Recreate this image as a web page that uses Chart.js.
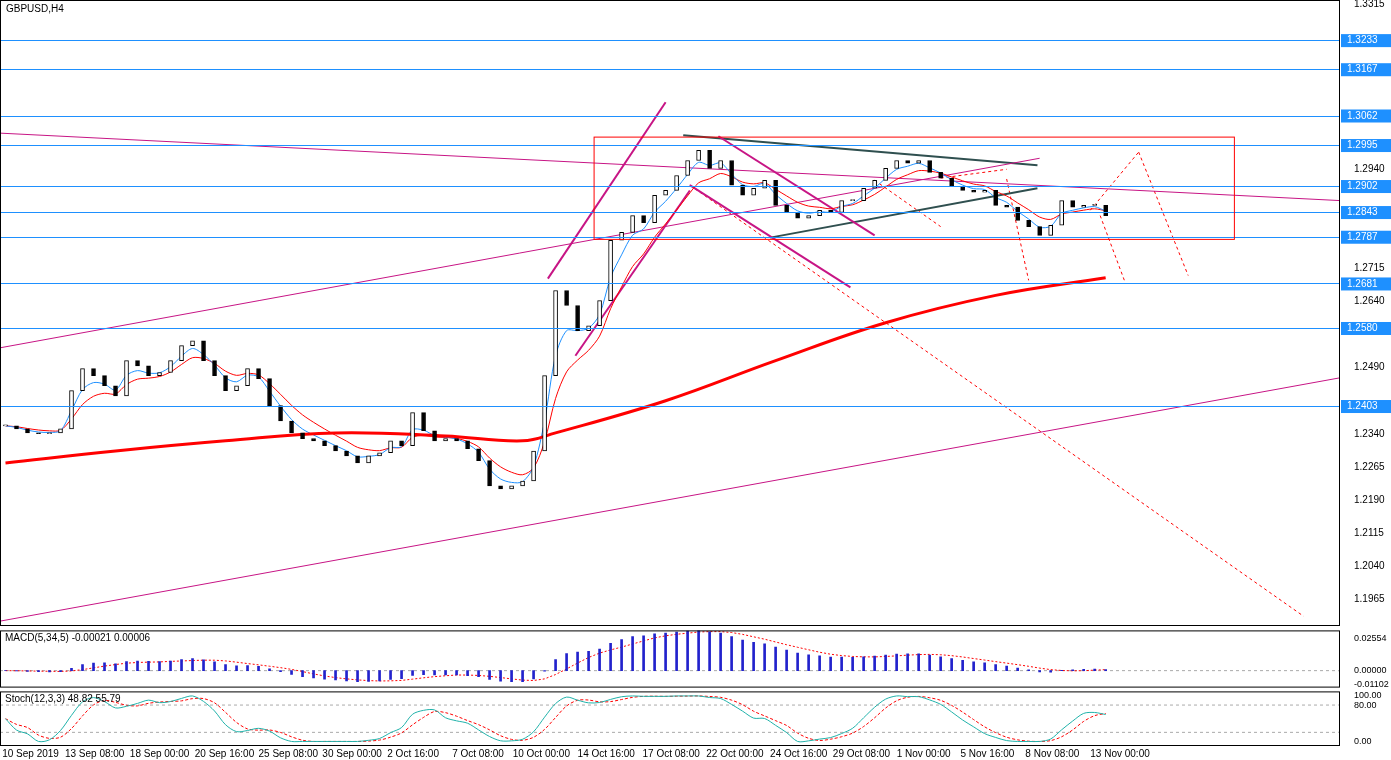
<!DOCTYPE html>
<html><head><meta charset="utf-8">
<script src="https://cdn.jsdelivr.net/npm/chart.js@4.4.1/dist/chart.umd.min.js"></script>
<style>
html,body{margin:0;background:#fff;font-family:"Liberation Sans",sans-serif;overflow:hidden;height:760px;}
.p{position:absolute;left:0;width:1391px;}
</style></head><body>
<div class="p" style="top:-12px;height:650px"><canvas id="main"></canvas></div>
<div class="p" style="top:619px;height:80px"><canvas id="macd"></canvas></div>
<div class="p" style="top:680px;height:80px"><canvas id="stoch"></canvas></div>
<script>
const closes=[1.2358,1.2351,1.2342,1.2340,1.2342,1.2351,1.2438,1.2488,1.2472,1.2449,1.2426,1.2506,1.2494,1.2472,1.2479,1.2506,1.2540,1.2551,1.2506,1.2472,1.2438,1.2449,1.2488,1.2465,1.2404,1.2369,1.2342,1.2329,1.2324,1.2313,1.2301,1.2290,1.2274,1.2290,1.2297,1.2324,1.2313,1.2388,1.2347,1.2324,1.2329,1.2324,1.2306,1.2279,1.2222,1.2215,1.2222,1.2233,1.2301,1.2472,1.2665,1.2631,1.2574,1.2585,1.2642,1.2779,1.2797,1.2835,1.2819,1.2881,1.2892,1.2926,1.2960,1.2983,1.2942,1.2960,1.2904,1.2881,1.2897,1.2915,1.2858,1.2842,1.2829,1.2835,1.2847,1.2842,1.2869,1.2869,1.2897,1.2915,1.2942,1.2960,1.2954,1.2960,1.2933,1.2920,1.2901,1.2892,1.2888,1.2892,1.2858,1.2854,1.2824,1.2810,1.2790,1.2813,1.2869,1.2854,1.2858,1.2858,1.2835];
const ma200Idx=[0,10,20,30,40,47,50,60,70,80,90,100];
const ma200Val=[1.2274,1.2301,1.2324,1.2342,1.2335,1.2324,1.2342,1.2415,1.2506,1.2592,1.2654,1.2694];
const levels=[1.3233,1.3167,1.3062,1.2995,1.2902,1.2843,1.2787,1.2681,1.2580,1.2403];
const tickLabels=["10 Sep 2019","13 Sep 08:00","18 Sep 00:00","20 Sep 16:00","25 Sep 08:00","30 Sep 00:00","2 Oct 16:00","7 Oct 08:00","10 Oct 00:00","14 Oct 16:00","17 Oct 08:00","22 Oct 00:00","24 Oct 16:00","29 Oct 08:00","1 Nov 00:00","5 Nov 16:00","8 Nov 08:00","13 Nov 00:00"];
const tickIdx=[-0.3,5.4,11.3,17.2,23,28.8,34.7,40.6,46.1,52,57.9,63.7,69.5,75.2,81,86.8,92.7,98.6];
const magentaLines=[[-0.5,1.3022,121.3,1.2869],[-0.5,1.2535,94,1.2965],[-0.5,1.1915,121.3,1.2467],[-0.5,1.1838,32,1.1797],
 [49.3,1.2692,60,1.3092],[51.8,1.2517,62.2,1.2892],[64.8,1.3015,79,1.2790],[62.2,1.2904,76.8,1.2672]];
const grayLines=[[61.6,1.3017,93.8,1.2949],[69.5,1.2785,93.8,1.2897]];
const redDashed=[[62.2,1.2904,118,1.1926],[98.6,1.2847,103,1.2979],[103,1.2979,107.5,1.2699],[99.5,1.2835,101.7,1.2688],[79,1.2915,85,1.2810],[85,1.2920,91,1.2940],[91,1.2918,93,1.2688]];
const rectBox=[53.5,1.3013,111.7,1.2781];

const XMIN=-0.5,XMAX=121.3;
function ema(a,n){const k=2/(n+1);let o=[],p=a[0];a.forEach((v,i)=>{p=i?v*k+p*(1-k):v;o.push(p)});return o;}
function sma(a,n){return a.map((v,i)=>{const s=a.slice(Math.max(0,i-n+1),i+1);return s.reduce((x,y)=>x+y,0)/s.length;});}
const opens=closes.map((c,i)=>i?closes[i-1]:c);
const fastMA=ema(closes,3),slowMA=ema(closes,6);
const e5=ema(closes,5),e34=ema(closes,34);
const macdMain=e5.map((v,i)=>v-e34[i]);
const macdSig=sma(macdMain,5);
const kraw=closes.map((c,i)=>{const s=closes.slice(Math.max(0,i-11),i+1);const lo=Math.min(...s),hi=Math.max(...s);return hi>lo?100*(c-lo)/(hi-lo):50;});
const stK=sma(kraw,3),stD=sma(stK,3);

const fixW={afterFit(s){s.width=51;}};
const seg=(l,c,w,d)=>l.map(s=>({type:'line',data:[{x:s[0],y:s[1]},{x:s[2],y:s[3]}],borderColor:c,borderWidth:w,borderDash:d||[],pointRadius:0,fill:false}));
const fontS={family:'"Liberation Sans", sans-serif',size:10};
Chart.defaults.animation=false;
const frame={id:'frame',afterDraw(ch){const c=ch.ctx,a=ch.chartArea;c.save();c.strokeStyle='#000';c.lineWidth=1;c.strokeRect(a.left+0.5,a.top+0.5,a.right-a.left-1,a.bottom-a.top-1);c.restore();}};

const mainPlug={id:'mainPlug',afterDatasetsDraw(ch){const c=ch.ctx,x=ch.scales.x,y=ch.scales.y,a=ch.chartArea;c.save();
 c.strokeStyle='#1e90ff';c.lineWidth=1;
 levels.forEach(l=>{const py=Math.round(y.getPixelForValue(l))+0.5;c.beginPath();c.moveTo(a.left,py);c.lineTo(a.right,py);c.stroke();});
 c.strokeStyle='#ff0000';const x1=x.getPixelForValue(rectBox[0]),x2=x.getPixelForValue(rectBox[2]),y1=y.getPixelForValue(rectBox[1]),y2=y.getPixelForValue(rectBox[3]);
 c.strokeRect(x1,y1,x2-x1,y2-y1);
 c.font='10px "Liberation Sans", sans-serif';c.fillStyle='#000';c.textBaseline='top';c.fillText('GBPUSD,H4',6,a.top+4);
 levels.forEach(l=>{const py=y.getPixelForValue(l);c.fillStyle='#1e90ff';c.fillRect(a.right+1,py-6,50,13);c.fillStyle='#fff';c.textBaseline='middle';c.fillText(l.toFixed(4),a.right+7,py+0.5);});
 c.restore();}};

const priceTicks=[];for(let v=1.1965;v<=1.3316;v+=0.0075)priceTicks.push(+v.toFixed(4));
new Chart(document.getElementById('main'),{data:{datasets:[
 {type:'bar',data:closes.map((c,i)=>({x:i,y:[opens[i],c]})),backgroundColor:closes.map((c,i)=>c>=opens[i]?'#fff':'#000'),borderColor:'#000',borderWidth:1,borderSkipped:false,barThickness:4,minBarLength:1},
 {type:'line',data:ma200Idx.map((v,i)=>({x:v,y:ma200Val[i]})),borderColor:'#ff0000',borderWidth:3,pointRadius:0,tension:0.4},
 {type:'line',data:fastMA.map((v,i)=>({x:i,y:v})),borderColor:'#1e90ff',borderWidth:1,pointRadius:0,tension:0.3},
 {type:'line',data:slowMA.map((v,i)=>({x:i,y:v})),borderColor:'#ff0000',borderWidth:1,pointRadius:0,tension:0.3},
 ...seg(magentaLines,'#c71585',2).map((d,i)=>i<4?{...d,borderWidth:1}:d),
 ...seg(grayLines,'#2f4f4f',2),
 ...seg(redDashed,'#ff0000',1,[3,3])
]},plugins:[mainPlug,frame],options:{responsive:true,maintainAspectRatio:false,plugins:{legend:{display:false},tooltip:{enabled:false}},
 scales:{x:{type:'linear',offset:false,min:XMIN,max:XMAX,display:false},
 y:{position:'right',min:1.1904,max:1.3324,...fixW,grid:{display:false},border:{display:false},afterBuildTicks(s){s.ticks=priceTicks.filter(v=>!levels.some(l=>Math.abs(l-v)<0.003)).map(v=>({value:v}));},
  ticks:{font:fontS,color:'#000',padding:6,callback:v=>v.toFixed(4)}}}}});

const hdr=t=>({id:'hdr',afterDraw(ch){const c=ch.ctx,a=ch.chartArea;c.save();c.font='10px "Liberation Sans", sans-serif';c.fillStyle='#000';c.textBaseline='top';c.fillText(t,5,a.top+3);c.restore();}});
new Chart(document.getElementById('macd'),{data:{datasets:[
 {type:'bar',data:macdMain.map((v,i)=>({x:i,y:v})),backgroundColor:'#2222cc',barThickness:2},
 {type:'line',data:macdSig.map((v,i)=>({x:i,y:v})),borderColor:'#ff0000',borderWidth:1,borderDash:[2,2],pointRadius:0},
 {type:'line',data:[{x:XMIN,y:0},{x:XMAX,y:0}],borderColor:'#aaa',borderWidth:1,borderDash:[3,3],pointRadius:0}
]},plugins:[frame,hdr('MACD(5,34,5) -0.00021 0.00006')],options:{responsive:true,maintainAspectRatio:false,plugins:{legend:{display:false},tooltip:{enabled:false}},
 scales:{x:{type:'linear',offset:false,min:XMIN,max:XMAX,display:false},y:{position:'right',min:-0.0135,max:0.032,...fixW,grid:{display:false},border:{display:false},
 afterBuildTicks(s){s.ticks=[0.02554,0,-0.01102].map(v=>({value:v}));},ticks:{font:{...fontS,size:9},color:'#000',padding:6,callback:v=>v.toFixed(5)}}}}});

const xLab={id:'xLab',afterDraw(ch){const c=ch.ctx,x=ch.scales.x,a=ch.chartArea;c.save();c.font='10px "Liberation Sans", sans-serif';c.fillStyle='#000';c.textBaseline='middle';c.textAlign='left';
 tickIdx.forEach((v,i)=>c.fillText(tickLabels[i],x.getPixelForValue(v),a.bottom+8));c.restore();}};
new Chart(document.getElementById('stoch'),{data:{datasets:[
 {type:'line',data:stK.map((v,i)=>({x:i,y:v})),borderColor:'#20b2aa',borderWidth:1,pointRadius:0,tension:0.3},
 {type:'line',data:stD.map((v,i)=>({x:i,y:v})),borderColor:'#ff0000',borderWidth:1,borderDash:[3,2],pointRadius:0,tension:0.3},
 {type:'line',data:[{x:XMIN,y:80},{x:XMAX,y:80}],borderColor:'#aaa',borderWidth:1,borderDash:[3,3],pointRadius:0},
 {type:'line',data:[{x:XMIN,y:20},{x:XMAX,y:20}],borderColor:'#aaa',borderWidth:1,borderDash:[3,3],pointRadius:0}
]},plugins:[frame,xLab,hdr('Stoch(12,3,3) 48.82 55.79')],options:{responsive:true,maintainAspectRatio:false,layout:{padding:{bottom:14}},plugins:{legend:{display:false},tooltip:{enabled:false}},
 scales:{x:{type:'linear',offset:false,min:XMIN,max:XMAX,display:false},
 y:{position:'right',min:-10,max:110,...fixW,grid:{display:false},border:{display:false},afterBuildTicks(s){s.ticks=[100,80,0].map(v=>({value:v}));},ticks:{font:{...fontS,size:9},color:'#000',padding:6,callback:v=>v.toFixed(2)}}}}});
</script></body></html>
